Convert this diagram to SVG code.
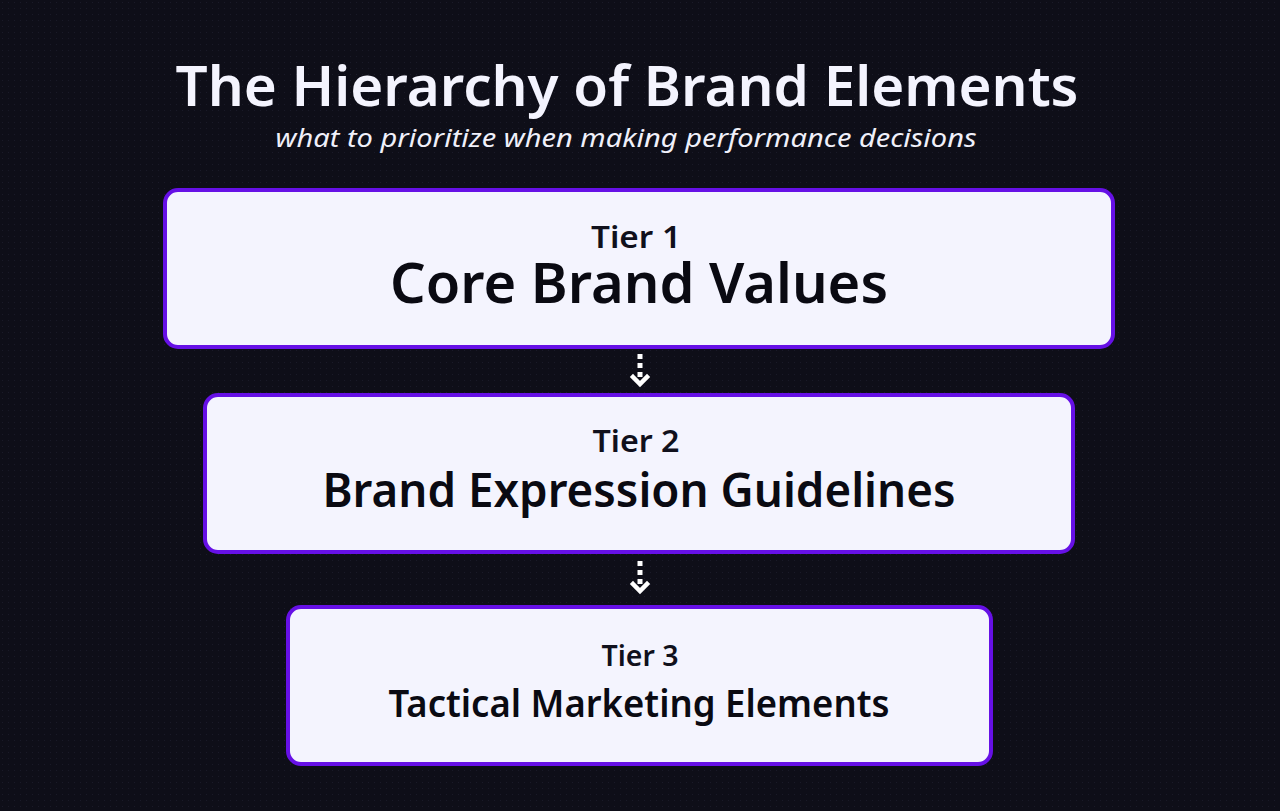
<svg xmlns="http://www.w3.org/2000/svg" width="1280" height="811" viewBox="0 0 1280 811">
<style>
.bg{fill:#0e0e18}
.box{fill:#f4f4fe;stroke:#6610e6;stroke-width:4}
.tier{font-family:"Noto Sans","Liberation Sans",sans-serif;font-weight:600;fill:#10101c;text-anchor:middle}
.name{font-family:"Noto Sans","Liberation Sans",sans-serif;font-weight:600;fill:#0a0a12;text-anchor:middle}
.title{font-family:"Noto Sans","Liberation Sans",sans-serif;font-weight:600;fill:#f4f4fe;text-anchor:middle}
.sub{font-family:"Noto Sans","Liberation Sans",sans-serif;font-style:italic;fill:#f0f0fa;text-anchor:middle}
.dash{stroke:#ffffff;stroke-width:5;stroke-dasharray:5 4;fill:none}
.head{fill:none;stroke:#ffffff;stroke-width:4.5;stroke-linecap:square;stroke-linejoin:miter}
</style>
<defs>
<pattern id="dots" width="6" height="6" patternUnits="userSpaceOnUse">
<rect x="2" y="2" width="1" height="1" fill="#1a1a28"/>
</pattern>
</defs>
<rect class="bg" width="1280" height="811"/>
<rect width="1280" height="811" fill="url(#dots)"/>
<g id="header">
<text class="title" x="627" y="106" font-size="56" textLength="903" lengthAdjust="spacingAndGlyphs">The Hierarchy of Brand Elements</text>
<text class="sub" x="626" y="147" font-size="26" textLength="701" lengthAdjust="spacingAndGlyphs">what to prioritize when making performance decisions</text>
</g>
<g id="tier1">
<rect class="box" x="165" y="190" width="948" height="157" rx="13"/>
<text class="tier" x="636" y="248" font-size="30" textLength="90" lengthAdjust="spacingAndGlyphs">Tier 1</text>
<text class="name" x="639" y="303" font-size="56" textLength="498" lengthAdjust="spacingAndGlyphs">Core Brand Values</text>
</g>
<g id="tier2">
<rect class="box" x="205" y="395" width="868" height="157" rx="13"/>
<text class="tier" x="636" y="452" font-size="30" textLength="87" lengthAdjust="spacingAndGlyphs">Tier 2</text>
<text class="name" x="639" y="507" font-size="46" textLength="633" lengthAdjust="spacingAndGlyphs">Brand Expression Guidelines</text>
</g>
<g id="tier3">
<rect class="box" x="288" y="607" width="703" height="157" rx="13"/>
<text class="tier" x="640" y="666" font-size="28" textLength="77" lengthAdjust="spacingAndGlyphs">Tier 3</text>
<text class="name" x="639" y="717" font-size="37" textLength="501" lengthAdjust="spacingAndGlyphs">Tactical Marketing Elements</text>
</g>
<g id="connectors">
<line class="dash" x1="640" y1="354" x2="640" y2="381"/>
<polyline class="head" points="633,377 640,384 647,377"/>
<line class="dash" x1="640" y1="561" x2="640" y2="588"/>
<polyline class="head" points="633,584 640,591 647,584"/>
</g>
</svg>
